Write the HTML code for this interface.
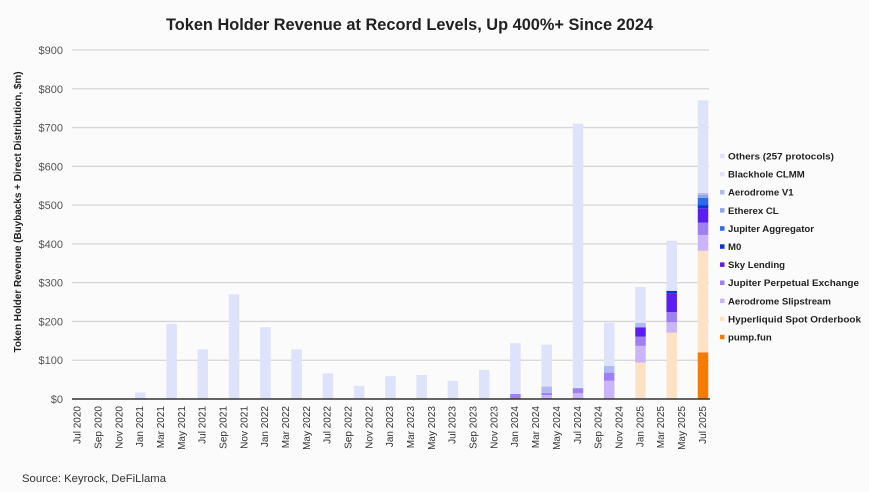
<!DOCTYPE html>
<html>
<head>
<meta charset="utf-8">
<style>
  html,body{margin:0;padding:0;background:#fbfbfb;}
  svg{display:block;font-family:"Liberation Sans",Arial,sans-serif;}
</style>
</head>
<body>
<svg width="869" height="492" viewBox="0 0 869 492" xmlns="http://www.w3.org/2000/svg">
  <rect x="0" y="0" width="869" height="492" fill="#fbfbfb"/>

  <!-- Title -->
  <text x="409.5" y="30" text-anchor="middle" font-size="17" font-weight="bold" fill="#222" textLength="487" lengthAdjust="spacingAndGlyphs">Token Holder Revenue at Record Levels, Up 400%+ Since 2024</text>

  <!-- Y axis title -->
  <text transform="translate(21,212) rotate(-90)" text-anchor="middle" font-size="10" font-weight="bold" fill="#222" textLength="281" lengthAdjust="spacingAndGlyphs">Token Holder Revenue (Buybacks + Direct Distribution, $m)</text>

  <!-- Gridlines -->
  <g stroke="#d6d6d6" stroke-width="1.3">
    <line x1="72" y1="360.22" x2="709" y2="360.22"/>
    <line x1="72" y1="321.44" x2="709" y2="321.44"/>
    <line x1="72" y1="282.66" x2="709" y2="282.66"/>
    <line x1="72" y1="243.88" x2="709" y2="243.88"/>
    <line x1="72" y1="205.10" x2="709" y2="205.10"/>
    <line x1="72" y1="166.32" x2="709" y2="166.32"/>
    <line x1="72" y1="127.54" x2="709" y2="127.54"/>
    <line x1="72" y1="88.76" x2="709" y2="88.76"/>
    <line x1="72" y1="49.98" x2="709" y2="49.98"/>
  </g>

  <!-- Y tick labels -->
  <g font-size="11" fill="#555" text-anchor="end">
    <text x="63" y="403">$0</text>
    <text x="63" y="364.2">$100</text>
    <text x="63" y="325.4">$200</text>
    <text x="63" y="286.7">$300</text>
    <text x="63" y="247.9">$400</text>
    <text x="63" y="209.1">$500</text>
    <text x="63" y="170.3">$600</text>
    <text x="63" y="131.5">$700</text>
    <text x="63" y="92.8">$800</text>
    <text x="63" y="54">$900</text>
  </g>

  <!-- Bars: single-series (Others) -->
  <g fill="#dfe2fb">
    <rect x="135.05" y="392.41" width="10.5" height="6.59"/>
    <rect x="166.35" y="323.77" width="10.5" height="75.23"/>
    <rect x="197.55" y="349.36" width="10.5" height="49.64"/>
    <rect x="228.85" y="294.29" width="10.5" height="104.71"/>
    <rect x="260.15" y="327.26" width="10.5" height="71.74"/>
    <rect x="291.35" y="349.36" width="10.5" height="49.64"/>
    <rect x="322.65" y="373.41" width="10.5" height="25.59"/>
    <rect x="353.85" y="385.81" width="10.5" height="13.19"/>
    <rect x="385.15" y="376.12" width="10.5" height="22.88"/>
    <rect x="416.45" y="374.96" width="10.5" height="24.04"/>
    <rect x="447.65" y="380.77" width="10.5" height="18.23"/>
    <rect x="478.95" y="369.91" width="10.5" height="29.09"/>
  </g>

  <!-- Jan 2024 -->
  <rect x="510.15" y="393.96" width="10.5" height="5.04" fill="#9e80f0"/>
  <rect x="510.15" y="343.16" width="10.5" height="50.8" fill="#dfe2fb"/>

  <!-- Apr 2024 -->
  <rect x="541.45" y="395.12" width="10.5" height="3.88" fill="#c9b5f7"/>
  <rect x="541.45" y="392.80" width="10.5" height="2.32" fill="#9e80f0"/>
  <rect x="541.45" y="386.59" width="10.5" height="6.21" fill="#b0b9f2"/>
  <rect x="541.45" y="344.71" width="10.5" height="41.88" fill="#dfe2fb"/>

  <!-- Jul 2024 -->
  <rect x="572.75" y="393.18" width="10.5" height="5.82" fill="#c9b5f7"/>
  <rect x="572.75" y="388.14" width="10.5" height="5.04" fill="#9e80f0"/>
  <rect x="572.75" y="123.66" width="10.5" height="264.48" fill="#dfe2fb"/>

  <!-- Oct 2024 -->
  <rect x="603.95" y="380.77" width="10.5" height="18.23" fill="#c9b5f7"/>
  <rect x="603.95" y="372.63" width="10.5" height="8.14" fill="#9e80f0"/>
  <rect x="603.95" y="366.04" width="10.5" height="6.59" fill="#b0b9f2"/>
  <rect x="603.95" y="322.60" width="10.5" height="43.44" fill="#dfe2fb"/>

  <!-- Jan 2025 -->
  <rect x="635.25" y="362.55" width="10.5" height="36.45" fill="#fde2c6"/>
  <rect x="635.25" y="345.87" width="10.5" height="16.68" fill="#c9b5f7"/>
  <rect x="635.25" y="336.56" width="10.5" height="9.31" fill="#9e80f0"/>
  <rect x="635.25" y="327.26" width="10.5" height="9.30" fill="#5a1ef0"/>
  <rect x="635.25" y="322.99" width="10.5" height="4.27" fill="#b0b9f2"/>
  <rect x="635.25" y="286.93" width="10.5" height="36.06" fill="#dfe2fb"/>

  <!-- Apr 2025 -->
  <rect x="666.45" y="332.69" width="10.5" height="66.31" fill="#fde2c6"/>
  <rect x="666.45" y="322.22" width="10.5" height="10.47" fill="#c9b5f7"/>
  <rect x="666.45" y="312.13" width="10.5" height="10.09" fill="#9e80f0"/>
  <rect x="666.45" y="293.13" width="10.5" height="19.00" fill="#5a1ef0"/>
  <rect x="666.45" y="290.80" width="10.5" height="2.33" fill="#0b33d8"/>
  <rect x="666.45" y="240.78" width="10.5" height="50.02" fill="#dfe2fb"/>

  <!-- Jul 2025 -->
  <rect x="697.75" y="352.46" width="10.5" height="46.54" fill="#f57b04"/>
  <rect x="697.75" y="250.86" width="10.5" height="101.6" fill="#fde2c6"/>
  <rect x="697.75" y="234.96" width="10.5" height="15.9" fill="#c9b5f7"/>
  <rect x="697.75" y="222.55" width="10.5" height="12.41" fill="#9e80f0"/>
  <rect x="697.75" y="208.20" width="10.5" height="14.35" fill="#5a1ef0"/>
  <rect x="697.75" y="205.10" width="10.5" height="3.10" fill="#0b33d8"/>
  <rect x="697.75" y="197.73" width="10.5" height="7.37" fill="#2e6af0"/>
  <rect x="697.75" y="195.02" width="10.5" height="2.71" fill="#8fa5ee"/>
  <rect x="697.75" y="193.08" width="10.5" height="1.94" fill="#b4b8f0"/>
  <rect x="697.75" y="100.39" width="10.5" height="92.69" fill="#dfe2fb"/>

  <!-- X axis line -->
  <line x1="72" y1="399" x2="710" y2="399" stroke="#333" stroke-width="1.6"/>

  <!-- X tick labels -->
  <g font-size="10" fill="#333" text-anchor="end">
    <text transform="translate(80.6,406) rotate(-90)">Jul 2020</text>
    <text transform="translate(101.4,406) rotate(-90)">Sep 2020</text>
    <text transform="translate(122.3,406) rotate(-90)">Nov 2020</text>
    <text transform="translate(143.1,406) rotate(-90)">Jan 2021</text>
    <text transform="translate(164.0,406) rotate(-90)">Mar 2021</text>
    <text transform="translate(184.8,406) rotate(-90)">May 2021</text>
    <text transform="translate(205.6,406) rotate(-90)">Jul 2021</text>
    <text transform="translate(226.5,406) rotate(-90)">Sep 2021</text>
    <text transform="translate(247.3,406) rotate(-90)">Nov 2021</text>
    <text transform="translate(268.2,406) rotate(-90)">Jan 2022</text>
    <text transform="translate(289.0,406) rotate(-90)">Mar 2022</text>
    <text transform="translate(309.8,406) rotate(-90)">May 2022</text>
    <text transform="translate(330.7,406) rotate(-90)">Jul 2022</text>
    <text transform="translate(351.5,406) rotate(-90)">Sep 2022</text>
    <text transform="translate(372.4,406) rotate(-90)">Nov 2022</text>
    <text transform="translate(393.2,406) rotate(-90)">Jan 2023</text>
    <text transform="translate(414.0,406) rotate(-90)">Mar 2023</text>
    <text transform="translate(434.9,406) rotate(-90)">May 2023</text>
    <text transform="translate(455.7,406) rotate(-90)">Jul 2023</text>
    <text transform="translate(476.6,406) rotate(-90)">Sep 2023</text>
    <text transform="translate(497.4,406) rotate(-90)">Nov 2023</text>
    <text transform="translate(518.2,406) rotate(-90)">Jan 2024</text>
    <text transform="translate(539.1,406) rotate(-90)">Mar 2024</text>
    <text transform="translate(559.9,406) rotate(-90)">May 2024</text>
    <text transform="translate(580.8,406) rotate(-90)">Jul 2024</text>
    <text transform="translate(601.6,406) rotate(-90)">Sep 2024</text>
    <text transform="translate(622.4,406) rotate(-90)">Nov 2024</text>
    <text transform="translate(643.3,406) rotate(-90)">Jan 2025</text>
    <text transform="translate(664.1,406) rotate(-90)">Mar 2025</text>
    <text transform="translate(685.0,406) rotate(-90)">May 2025</text>
    <text transform="translate(705.8,406) rotate(-90)">Jul 2025</text>
  </g>

  <!-- Legend -->
  <g font-size="9.6" font-weight="bold" fill="#222">
    <rect x="720" y="153.8" width="4.5" height="4.5" fill="#dfe2fb"/>
    <text x="728" y="159.5" textLength="106" lengthAdjust="spacingAndGlyphs">Others (257 protocols)</text>
    <rect x="720" y="171.9" width="4.5" height="4.5" fill="#e4e3f9"/>
    <text x="728" y="177.6">Blackhole CLMM</text>
    <rect x="720" y="190.0" width="4.5" height="4.5" fill="#b4b8f0"/>
    <text x="728" y="195.7">Aerodrome V1</text>
    <rect x="720" y="208.1" width="4.5" height="4.5" fill="#8fa5ee"/>
    <text x="728" y="213.8">Etherex CL</text>
    <rect x="720" y="226.2" width="4.5" height="4.5" fill="#2e6af0"/>
    <text x="728" y="231.9">Jupiter Aggregator</text>
    <rect x="720" y="244.3" width="4.5" height="4.5" fill="#0b33d8"/>
    <text x="728" y="250.0">M0</text>
    <rect x="720" y="262.4" width="4.5" height="4.5" fill="#5a1ef0"/>
    <text x="728" y="268.1">Sky Lending</text>
    <rect x="720" y="280.5" width="4.5" height="4.5" fill="#9e80f0"/>
    <text x="728" y="286.2" textLength="131" lengthAdjust="spacingAndGlyphs">Jupiter Perpetual Exchange</text>
    <rect x="720" y="298.6" width="4.5" height="4.5" fill="#c9b5f7"/>
    <text x="728" y="304.3">Aerodrome Slipstream</text>
    <rect x="720" y="316.7" width="4.5" height="4.5" fill="#fde2c6"/>
    <text x="728" y="322.4" textLength="133" lengthAdjust="spacingAndGlyphs">Hyperliquid Spot Orderbook</text>
    <rect x="720" y="334.8" width="4.5" height="4.5" fill="#f57b04"/>
    <text x="728" y="340.5">pump.fun</text>
  </g>

  <!-- Source -->
  <text x="22" y="482" font-size="11" fill="#333" textLength="144" lengthAdjust="spacingAndGlyphs">Source: Keyrock, DeFiLlama</text>
</svg>
</body>
</html>
